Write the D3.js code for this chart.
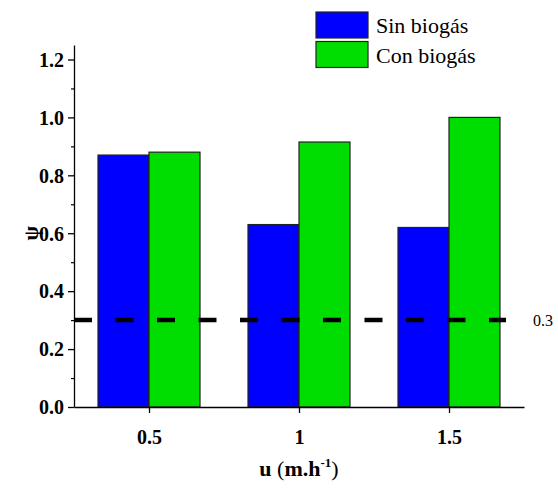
<!DOCTYPE html>
<html>
<head>
<meta charset="utf-8">
<script src="https://cdn.jsdelivr.net/npm/d3@7"></script>
<style>
  body { margin: 0; background: #fff; }
  svg { display: block; }
</style>
</head>
<body>
<svg id="chart" width="558" height="489"></svg>
<script>
// Flow velocities (m.h^-1) and the ψ value for each configuration
const velocities = [0.5, 1, 1.5];
const velocityLabels = ["0.5", "1", "1.5"];
const sinBiogas = [0.87, 0.63, 0.62];
const conBiogas = [0.88, 0.915, 1.0];
const seriesNames = ["Sin biogás", "Con biogás"];
const seriesColors = ["#0000ff", "#00dd00"];
const yTicks = [0.0, 0.2, 0.4, 0.6, 0.8, 1.0, 1.2];
const yMinorTicks = [0.1, 0.3, 0.5, 0.7, 0.9, 1.1];
const threshold = 0.3;

const SERIF = '"Liberation Serif", "Times New Roman", serif';
const svg = d3.select("#chart");
const plotLeft = 74, plotRight = 524, plotTop = 45, plotBottom = 407;

const x = d3.scaleLinear().domain([0.25, 1.75]).range([plotLeft, plotRight]);
const y = d3.scaleLinear().domain([0, 1.25]).range([plotBottom, plotTop]);
const barW = x(0.5 + 0.17) - x(0.5);

// Bars: one group per velocity, "sin" to the left of the tick, "con" to the right
const series = [sinBiogas, conBiogas];
series.forEach((vals, si) => {
  svg.append("g").selectAll("rect")
    .data(vals)
    .join("rect")
    .attr("x", (d, i) => si === 0 ? x(velocities[i]) - barW : x(velocities[i]))
    .attr("y", d => y(d))
    .attr("width", barW)
    .attr("height", d => y(0) - y(d))
    .attr("fill", seriesColors[si])
    .attr("stroke", "#222")
    .attr("stroke-width", 1.2);
});

// Threshold line
svg.append("line")
  .attr("x1", x(0.25)).attr("x2", x(1.69))
  .attr("y1", y(threshold)).attr("y2", y(threshold))
  .attr("stroke", "#000")
  .attr("stroke-width", 4.5)
  .attr("stroke-dasharray", "18,23.5");
svg.append("text")
  .attr("x", 533).attr("y", y(threshold) + 6)
  .style("font-family", SERIF).style("font-size", "16px")
  .text(String(threshold));

// Y axis
const yAxis = d3.axisLeft(y).tickValues(yTicks).tickFormat(d3.format(".1f"))
  .tickSize(6).tickSizeOuter(0);
const gy = svg.append("g").attr("transform", `translate(${plotLeft},0)`).call(yAxis);
gy.select(".domain").attr("stroke", "#000").attr("stroke-width", 1.3);
gy.selectAll(".tick line").attr("stroke-width", 1.3);
gy.selectAll(".tick text")
  .style("font-family", SERIF)
  .style("font-weight", "bold").style("font-size", "20px")
  .attr("fill", "#000")
  .attr("x", -10).attr("dy", "0.34em");
svg.append("g").attr("transform", `translate(${plotLeft},0)`)
  .call(d3.axisLeft(y).tickValues(yMinorTicks).tickSize(3).tickFormat(""))
  .call(g => g.select(".domain").remove())
  .selectAll(".tick line").attr("stroke-width", 1.2);

// X axis
const xAxis = d3.axisBottom(x).tickValues(velocities)
  .tickFormat((d, i) => velocityLabels[i]).tickSize(6).tickSizeOuter(0);
const gx = svg.append("g").attr("transform", `translate(0,${plotBottom})`).call(xAxis);
gx.select(".domain").attr("stroke", "#000").attr("stroke-width", 1.3);
gx.selectAll(".tick line").attr("stroke-width", 1.3);
gx.selectAll(".tick text")
  .style("font-family", SERIF)
  .style("font-weight", "bold").style("font-size", "20px")
  .attr("fill", "#000")
  .attr("y", 37).attr("dy", 0);

// Axis titles
svg.append("text")
  .attr("transform", `translate(38,${y(0.6)}) rotate(-90)`)
  .attr("text-anchor", "middle")
  .style("font-family", SERIF)
  .style("font-weight", "bold").style("font-size", "21px")
  .text("ψ");

const xt = svg.append("text")
  .attr("x", x(1)).attr("y", 476)
  .attr("text-anchor", "middle")
  .style("font-family", SERIF)
  .style("font-size", "22px");
xt.append("tspan").style("font-weight", "bold").text("u ");
xt.append("tspan").text("(");
xt.append("tspan").style("font-weight", "bold").text("m.h");
xt.append("tspan").style("font-weight", "bold").style("font-size", "13px").attr("dy", -9).text("-1");
xt.append("tspan").attr("dy", 9).text(")");

// Legend
const legend = svg.append("g");
seriesNames.forEach((name, i) => {
  legend.append("rect")
    .attr("x", 316).attr("y", 12 + i * 29.5)
    .attr("width", 52).attr("height", 26)
    .attr("fill", seriesColors[i])
    .attr("stroke", "#222").attr("stroke-width", 1.2);
  legend.append("text")
    .attr("x", 376).attr("y", 33 + i * 29.5)
    .style("font-family", SERIF)
    .style("font-size", "22px")
    .text(name);
});
</script>
</body>
</html>
